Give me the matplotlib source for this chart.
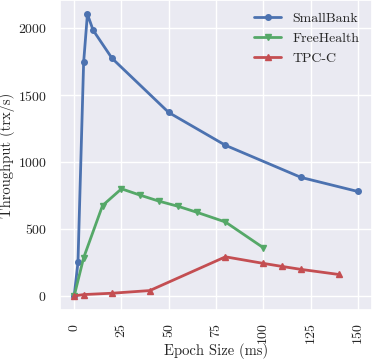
import matplotlib
matplotlib.use("Agg")
import matplotlib.pyplot as plt
import seaborn as sns

# epoch size (ms) vs throughput (trx/s)
sb_epoch = [0, 2, 5, 7, 10, 20, 50, 80, 120, 150]
sb_tput = [0, 250, 1745, 2105, 1985, 1775, 1370, 1125, 885, 780]

fh_epoch = [0, 5, 15, 25, 35, 45, 55, 65, 80, 100]
fh_tput = [0, 285, 675, 800, 752, 707, 669, 624, 552, 360]

tpcc_epoch = [0, 5, 20, 40, 80, 100, 110, 120, 140]
tpcc_tput = [0, 10, 20, 40, 292, 243, 220, 198, 160]

sns.set_theme(style="darkgrid")
plt.rcParams["font.family"] = "serif"
plt.rcParams["font.serif"] = ["cmr10"]
plt.rcParams["mathtext.fontset"] = "cm"
plt.rcParams["axes.formatter.use_mathtext"] = True
plt.rcParams["font.size"] = 10

fig = plt.figure(figsize=(3.73, 3.64), dpi=100)
ax = fig.add_axes([60 / 373, 1 - 310 / 364, 312 / 373, 310 / 364])

ax.plot(sb_epoch, sb_tput, marker="o", markersize=4, linewidth=2, color="#4c72b0", label="SmallBank")
ax.plot(fh_epoch, fh_tput, marker="v", markersize=4, linewidth=2, color="#55a868", label="FreeHealth")
ax.plot(tpcc_epoch, tpcc_tput, marker="^", markersize=4, linewidth=2, color="#c44e52", label="TPC-C")

ax.set_xticks([0, 25, 50, 75, 100, 125, 150])
ax.set_yticks([0, 500, 1000, 1500, 2000])
ax.tick_params(axis="x", labelrotation=90)
ax.tick_params(labelsize=10)
ax.set_xlabel("Epoch Size (ms)", fontsize=10.5)
ax.set_ylabel("Throughput (trx/s)", fontsize=10.5)
ax.xaxis.set_label_coords(0.5, -0.108)
ax.yaxis.set_label_coords(-0.145, 0.5)
ax.legend(loc="upper right", frameon=False, fontsize=10)

fig.savefig("out.png", dpi=100)
